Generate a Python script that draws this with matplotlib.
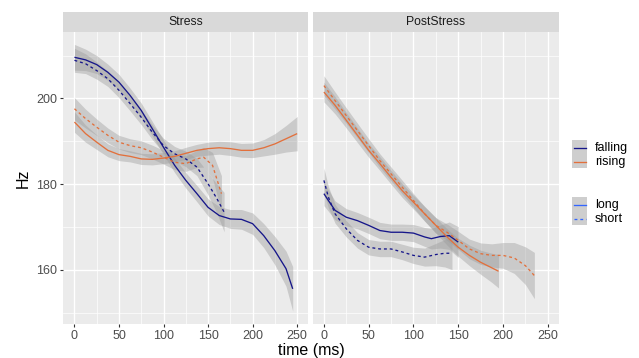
"""
Pitch contours (Hz) over time for falling / rising tones,
long vs short syllables, split by Stress / PostStress.
"""

import numpy as np
import matplotlib
matplotlib.use("Agg")
import matplotlib.pyplot as plt
from matplotlib.patches import Rectangle

plt.rcParams['font.family'] = ['Liberation Sans', 'DejaVu Sans']

# -------------------------
# DATA
# -------------------------

panels = ["Stress", "PostStress"]

# Stress panel
stress_fall_long_t = [0, 12.5, 25, 37.5, 50, 62.5, 75, 87.5, 100, 112.5, 125, 137.5,
                      150, 162.5, 175, 187.5, 200, 212.5, 225, 237.5, 245]
stress_fall_long_hz = [209.6, 209.0, 207.9, 206.1, 203.8, 200.7, 197.2, 192.9, 188.6, 184.4,
                       180.9, 177.8, 174.6, 172.7, 171.9, 171.8, 170.8, 168.0, 164.5, 160.3, 155.6]
stress_fall_long_se = [3.0, 2.5, 2.1, 1.9, 1.8, 1.7, 1.7, 1.7, 1.7, 1.7,
                       1.8, 1.9, 2.0, 2.1, 2.2, 2.3, 2.5, 2.8, 3.3, 4.1, 5.2]

stress_fall_short_t = [0, 12.5, 25, 37.5, 50, 62.5, 75, 87.5, 100, 112.5, 125, 137.5, 150, 160, 168]
stress_fall_short_hz = [208.9, 208.1, 206.5, 204.6, 201.9, 198.8, 195.6, 192.1, 189.0, 187.1,
                        185.9, 184.0, 180.1, 176.6, 173.5]
stress_fall_short_se = [2.8, 2.3, 2.0, 1.8, 1.7, 1.7, 1.7, 1.7, 1.7, 1.7, 1.8, 2.0, 2.6, 3.4, 4.6]

stress_rise_long_t = [0, 12.5, 25, 37.5, 50, 62.5, 75, 87.5, 100, 112.5, 125, 137.5,
                      150, 162.5, 175, 187.5, 200, 212.5, 225, 237.5, 250]
stress_rise_long_hz = [194.5, 191.8, 189.8, 187.9, 186.9, 186.5, 185.9, 185.8, 186.1, 186.5,
                       187.2, 187.9, 188.3, 188.5, 188.3, 187.9, 187.9, 188.5, 189.4, 190.6, 191.8]
stress_rise_long_se = [2.4, 2.0, 1.7, 1.5, 1.4, 1.3, 1.3, 1.3, 1.3, 1.3,
                       1.4, 1.4, 1.5, 1.5, 1.6, 1.6, 1.7, 1.9, 2.4, 3.1, 4.0]

stress_rise_short_t = [0, 12.5, 25, 37.5, 50, 62.5, 75, 87.5, 100, 112.5, 125, 137.5, 145, 155, 165]
stress_rise_short_hz = [197.6, 195.3, 193.3, 191.4, 189.8, 189.0, 188.5, 187.5, 186.3, 185.1,
                        184.8, 185.9, 186.3, 184.4, 177.8]
stress_rise_short_se = [2.6, 2.2, 1.9, 1.7, 1.6, 1.6, 1.6, 1.6, 1.6, 1.7, 1.8, 2.0, 2.3, 3.0, 4.2]

# PostStress panel
post_fall_long_t = [0, 5, 12.5, 25, 37.5, 50, 62.5, 75, 87.5, 100, 112.5, 120, 130, 140, 150]
post_fall_long_hz = [177.8, 176.2, 173.9, 172.3, 171.5, 170.4, 169.2, 168.8, 168.8, 168.6,
                     167.7, 167.3, 167.8, 168.0, 166.5]
post_fall_long_se = [2.8, 2.5, 2.2, 2.0, 1.9, 1.9, 1.9, 1.9, 1.9, 2.0, 2.2, 2.4, 2.7, 3.2, 3.6]

post_fall_short_t = [0, 5, 12.5, 25, 37.5, 50, 62.5, 75, 87.5, 100, 112.5, 125, 135, 143]
post_fall_short_hz = [180.9, 177.0, 173.1, 169.6, 166.9, 165.3, 164.9, 164.9, 164.2, 163.4,
                      163.0, 163.6, 163.9, 163.9]
post_fall_short_se = [2.9, 2.5, 2.2, 1.9, 1.8, 1.8, 1.8, 1.8, 1.8, 1.9, 2.1, 2.6, 3.2, 3.8]

post_rise_long_t = [0, 12.5, 25, 37.5, 50, 62.5, 75, 87.5, 100, 112.5, 125, 137.5,
                    150, 162.5, 175, 187.5, 195]
post_rise_long_hz = [201.5, 198.4, 194.9, 191.4, 187.9, 184.8, 181.6, 178.5, 175.8, 173.1,
                     170.4, 167.7, 165.3, 163.4, 161.8, 160.5, 159.7]
post_rise_long_se = [2.3, 2.0, 1.8, 1.7, 1.6, 1.6, 1.6, 1.6, 1.6, 1.7,
                     1.8, 1.9, 2.1, 2.4, 2.8, 3.4, 3.9]

post_rise_short_t = [0, 12.5, 25, 37.5, 50, 62.5, 75, 87.5, 100, 112.5, 125, 137.5,
                     150, 162.5, 175, 187.5, 200, 212.5, 225, 235]
post_rise_short_hz = [203.0, 199.5, 196.0, 192.5, 189.0, 185.5, 182.4, 179.3, 176.2, 173.1,
                      170.4, 168.8, 166.9, 164.9, 163.8, 163.4, 163.4, 162.8, 161.0, 158.7]
post_rise_short_se = [2.3, 2.0, 1.8, 1.7, 1.6, 1.6, 1.6, 1.6, 1.6, 1.7,
                      1.8, 1.9, 2.1, 2.3, 2.5, 2.7, 3.0, 3.6, 4.4, 5.4]

x_ticks = [0, 50, 100, 150, 200, 250]
y_ticks = [160, 180, 200]
tone_labels = ["falling", "rising"]
length_labels = ["long", "short"]

# -------------------------
# STYLE
# -------------------------

NAVY = "#16168A"
ORANGE = "#E2703C"
KEYBLUE = "#3366FF"
PANEL_BG = "#EBEBEB"
STRIP_BG = "#D9D9D9"
RIBBON = "#999999"
LW = 0.95

series = {
    "Stress": [
        (stress_fall_long_t, stress_fall_long_hz, stress_fall_long_se, NAVY, "-"),
        (stress_fall_short_t, stress_fall_short_hz, stress_fall_short_se, NAVY, ":"),
        (stress_rise_long_t, stress_rise_long_hz, stress_rise_long_se, ORANGE, "-"),
        (stress_rise_short_t, stress_rise_short_hz, stress_rise_short_se, ORANGE, ":"),
    ],
    "PostStress": [
        (post_fall_long_t, post_fall_long_hz, post_fall_long_se, NAVY, "-"),
        (post_fall_short_t, post_fall_short_hz, post_fall_short_se, NAVY, ":"),
        (post_rise_long_t, post_rise_long_hz, post_rise_long_se, ORANGE, "-"),
        (post_rise_short_t, post_rise_short_hz, post_rise_short_se, ORANGE, ":"),
    ],
}

W, H = 639, 358
fig = plt.figure(figsize=(W / 100, H / 100), dpi=100)


def px_box(x0, y0, x1, y1):
    """Pixel box (top-left origin) -> figure fraction rect."""
    return [x0 / W, 1 - y1 / H, (x1 - x0) / W, (y1 - y0) / H]


panel_px = [(63.3, 32, 308.3, 324), (312.7, 32, 559, 324)]

for i, name in enumerate(panels):
    x0, y0, x1, y1 = panel_px[i]
    ax = fig.add_axes(px_box(x0, y0, x1, y1))
    ax.set_facecolor(PANEL_BG)
    for s in ax.spines.values():
        s.set_visible(False)
    ax.set_xlim(-12.5, 262.5)
    ax.set_ylim(147.4, 215.5)
    ax.set_xticks(x_ticks)
    ax.set_xticks([25, 75, 125, 175, 225], minor=True)
    ax.set_yticks(y_ticks)
    ax.set_yticks([150, 170, 190, 210], minor=True)
    ax.grid(which="major", color="white", linewidth=1.0)
    ax.grid(which="minor", color="white", linewidth=0.5)
    ax.set_axisbelow(True)
    ax.tick_params(which="major", length=2.5, width=0.8, color="#333333",
                   labelsize=9, labelcolor="#4D4D4D", pad=2)
    ax.tick_params(which="minor", length=0)
    if i > 0:
        ax.tick_params(axis="y", which="major", length=0, labelleft=False)
    else:
        ax.set_ylabel("Hz", fontsize=11.5, labelpad=4)

    for t, hz, se, col, ls in series[name]:
        t = np.array(t)
        hz = np.array(hz)
        se = np.array(se)
        ax.fill_between(t, hz - se, hz + se, color=RIBBON, alpha=0.4, linewidth=0)
        line, = ax.plot(t, hz, color=col, linewidth=LW, solid_capstyle="butt")
        if ls == ":":
            line.set_dashes((2.2, 2.2))

    # strip
    sax = fig.add_axes(px_box(x0, 12.3, x1, 32))
    sax.set_facecolor(STRIP_BG)
    sax.set_xticks([])
    sax.set_yticks([])
    for s in sax.spines.values():
        s.set_visible(False)
    sax.text(0.5, 0.5, name, ha="center", va="center", fontsize=8.8, color="#1A1A1A",
             transform=sax.transAxes)

fig.text((63.3 + 559) / 2 / W, 1 - 350 / H, "time (ms)", ha="center", va="center",
         fontsize=11.5)

# -------------------------
# LEGEND (drawn in pixel space)
# -------------------------

lax = fig.add_axes([0, 0, 1, 1])
lax.set_xlim(0, W)
lax.set_ylim(H, 0)
lax.axis("off")

key_x0, key_x1 = 572, 587
groups = [
    (140, tone_labels, [(NAVY, "-"), (ORANGE, "-")]),
    (197, length_labels, [(KEYBLUE, "-"), (KEYBLUE, ":")]),
]
for top, labels, styles in groups:
    lax.add_patch(Rectangle((key_x0, top), key_x1 - key_x0, 28, facecolor="#F2F2F2",
                            edgecolor="none"))
    lax.add_patch(Rectangle((key_x0, top), key_x1 - key_x0, 28, facecolor=RIBBON,
                            alpha=0.4, edgecolor="none"))
    for j, (lab, (col, ls)) in enumerate(zip(labels, styles)):
        yc = top + 7.5 + j * 14
        ln, = lax.plot([key_x0 + 1.5, key_x1 - 1.5], [yc, yc], color=col, linewidth=LW)
        if ls == ":":
            ln.set_dashes((2.2, 2.2))
        lax.text(595, yc + 0.5, lab, ha="left", va="center", fontsize=9, color="black")

fig.savefig("out.png", dpi=100)
